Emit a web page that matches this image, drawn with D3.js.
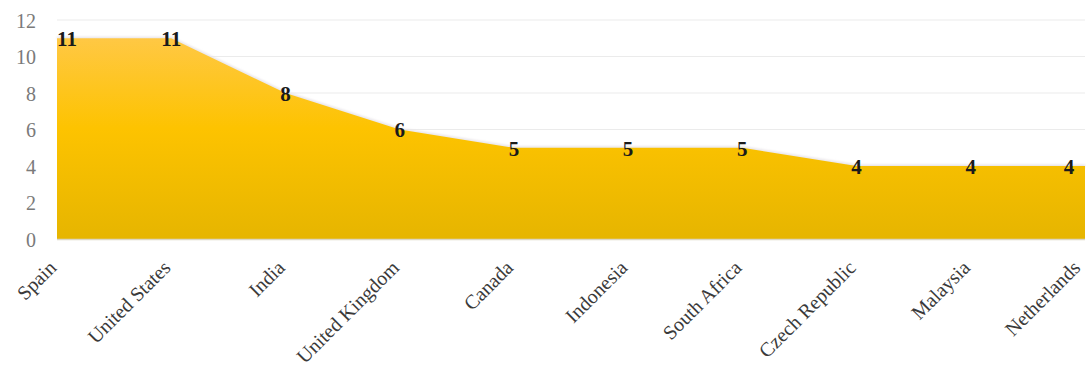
<!DOCTYPE html>
<html>
<head>
<meta charset="utf-8">
<script src="https://cdn.jsdelivr.net/npm/d3@7"></script>
<style>
  html, body { margin: 0; padding: 0; background: #fff; }
  svg { display: block; }
</style>
</head>
<body>
<svg id="chart" width="1086" height="374"></svg>
<script>
// Country counts
const categories = ["Spain", "United States", "India", "United Kingdom", "Canada",
  "Indonesia", "South Africa", "Czech Republic", "Malaysia", "Netherlands"];
const values = [11, 11, 8, 6, 5, 5, 5, 4, 4, 4];
const yTicks = [0, 2, 4, 6, 8, 10, 12];

const svg = d3.select("#chart");
const W = 1086, H = 374;
const m = { left: 57, right: 1, top: 20, bottom: 135 };

const x = d3.scalePoint().domain(categories).range([m.left, W - m.right]);
const y = d3.scaleLinear().domain([0, 12]).range([H - m.bottom, m.top]);

const defs = svg.append("defs");
const grad = defs.append("linearGradient")
  .attr("id", "fillGrad").attr("x1", 0).attr("y1", 0).attr("x2", 0).attr("y2", 1);
grad.append("stop").attr("offset", "0%").attr("stop-color", "#ffc844");
grad.append("stop").attr("offset", "45%").attr("stop-color", "#fdc300");
grad.append("stop").attr("offset", "100%").attr("stop-color", "#e6b500");

const glow = defs.append("filter").attr("id", "glow")
  .attr("x", "-5%").attr("y", "-10%").attr("width", "110%").attr("height", "120%");
glow.append("feGaussianBlur").attr("stdDeviation", 1.2);

// Gridlines
svg.append("g").selectAll("line")
  .data(yTicks.filter(d => d > 0))
  .join("line")
  .attr("x1", m.left).attr("x2", W - m.right)
  .attr("y1", d => y(d)).attr("y2", d => y(d))
  .attr("stroke", "#ebebeb").attr("stroke-width", 1);

// Y axis labels
const yAxis = d3.axisLeft(y).tickValues(yTicks).tickSize(0).tickPadding(0);
const gy = svg.append("g").attr("transform", `translate(${36},0)`).call(yAxis);
gy.select(".domain").remove();
gy.selectAll("text")
  .attr("font-family", "'Liberation Serif', serif")
  .attr("font-size", 20)
  .attr("fill", "#7a7a7a")
  .attr("dy", "0.35em");

const data = categories.map((c, i) => ({ c, v: values[i] }));

const area = d3.area()
  .x(d => x(d.c))
  .y0(y(0))
  .y1(d => y(d.v));

// soft light edge along the top
svg.append("path")
  .datum(data)
  .attr("d", d3.line().x(d => x(d.c)).y(d => y(d.v)))
  .attr("fill", "none")
  .attr("stroke", "#e8e4e8")
  .attr("stroke-width", 3)
  .attr("filter", "url(#glow)");

svg.append("path")
  .datum(data)
  .attr("d", area)
  .attr("fill", "url(#fillGrad)");

// Baseline
svg.append("line")
  .attr("x1", m.left).attr("x2", W - m.right)
  .attr("y1", y(0) + 0.5).attr("y2", y(0) + 0.5)
  .attr("stroke", "#dcd6c4").attr("stroke-width", 1.5);

// X axis labels (rotated)
const xAxis = d3.axisBottom(x).tickSize(0).tickPadding(0);
const gx = svg.append("g").attr("transform", `translate(0,${y(0)})`).call(xAxis);
gx.select(".domain").remove();
gx.selectAll("text")
  .attr("font-family", "'Liberation Serif', serif")
  .attr("font-size", 20)
  .attr("fill", "#3a3a3a")
  .attr("text-anchor", "end")
  .attr("dy", null)
  .attr("y", 0)
  .attr("transform", (d, i) => {
    const dx = i === categories.length - 1 ? -4 : 0;
    return `translate(${dx},30) rotate(-45)`;
  });

// Value labels
svg.append("g").selectAll("text")
  .data(data)
  .join("text")
  .attr("x", d => Math.min(Math.max(x(d.c), m.left + 10), W - m.right - 16))
  .attr("y", d => y(d.v) + 3)
  .attr("text-anchor", "middle")
  .attr("dominant-baseline", "middle")
  .attr("font-family", "'Liberation Serif', serif")
  .attr("font-weight", "bold")
  .attr("font-size", 21)
  .attr("fill", "#1a1a1a")
  .text(d => d.v);
</script>
</body>
</html>
